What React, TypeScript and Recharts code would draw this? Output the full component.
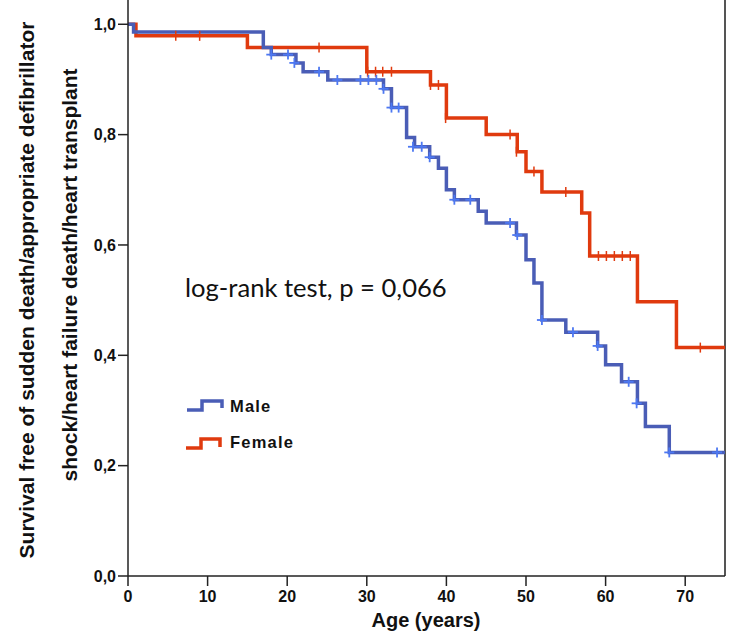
import React from 'react';
import {
  ComposedChart,
  Line,
  Scatter,
  XAxis,
  YAxis,
  ReferenceLine
} from 'recharts';

// Kaplan-Meier steps: [age, survival]
const maleSteps: [number, number][] = [
  [0, 1.0], [0.7, 0.986], [17.0, 0.958], [18.0, 0.945], [21.1, 0.93], [22.0, 0.914],
  [25.1, 0.899], [32.1, 0.883], [33.1, 0.849], [35.0, 0.795], [36.0, 0.778],
  [37.9, 0.759], [39.0, 0.739], [40.0, 0.7], [41.0, 0.682], [44.0, 0.661],
  [45.0, 0.64], [48.8, 0.618], [50.0, 0.573], [51.0, 0.531], [52.0, 0.464],
  [55.0, 0.442], [59.0, 0.417], [60.0, 0.383], [62.0, 0.352], [64.0, 0.313],
  [65.0, 0.271], [68.0, 0.224], [75, 0.224]
];

const maleCensored: [number, number][] = [
  [18.0, 0.945], [20.1, 0.945], [20.9, 0.93], [24.0, 0.914], [26.3, 0.899],
  [29.2, 0.899], [30.2, 0.899], [31.2, 0.899], [32.1, 0.883], [33.1, 0.849],
  [34.0, 0.849], [35.8, 0.778], [36.9, 0.778], [37.9, 0.759], [41.0, 0.682],
  [43.0, 0.682], [48.0, 0.64], [48.9, 0.618], [52.0, 0.464], [55.9, 0.442],
  [59.0, 0.417], [62.9, 0.352], [63.9, 0.313], [68.0, 0.224], [74.0, 0.224]
];

const femaleSteps: [number, number][] = [
  [0, 1.0], [1.0, 0.979], [15.0, 0.958], [30.0, 0.914], [38.0, 0.89], [40.0, 0.83],
  [45.0, 0.8], [48.9, 0.769], [50.0, 0.733], [52.0, 0.696], [57.0, 0.658],
  [58.0, 0.58], [64.0, 0.497], [68.9, 0.414], [75, 0.414]
];

const femaleCensored: [number, number][] = [
  [6.0, 0.979], [9.0, 0.979], [24.0, 0.958], [30.1, 0.914], [31.1, 0.914],
  [32.0, 0.914], [33.1, 0.914], [38.0, 0.89], [39.0, 0.89], [39.9, 0.83],
  [48.0, 0.8], [48.8, 0.769], [51.0, 0.733], [55.0, 0.696], [59.1, 0.58],
  [60.1, 0.58], [61.1, 0.58], [62.1, 0.58], [63.1, 0.58], [71.9, 0.414]
];

const xTicks = [0, 10, 20, 30, 40, 50, 60, 70];
const yTicks = [0, 0.2, 0.4, 0.6, 0.8, 1.0];

const toRows = (pts: [number, number][]) => pts.map(([t, s]) => ({ t, s }));

const MALE = '#4a5db6';
const MALE_MARK = '#4d78f2';
const FEMALE = '#e03a0e';
const AXIS = '#222';
const boldFont = "'Liberation Sans', Arial, sans-serif";

const MaleMark = (props: any) => {
  const { cx, cy } = props;
  return (
    <g>
      <line x1={cx} x2={cx} y1={cy - 5} y2={cy + 5} stroke={MALE_MARK} strokeWidth={1.8} />
      <line x1={cx - 5} x2={cx + 5} y1={cy} y2={cy} stroke={MALE_MARK} strokeWidth={1.8} />
    </g>
  );
};

const FemaleMark = (props: any) => {
  const { cx, cy } = props;
  return <line x1={cx} x2={cx} y1={cy - 5} y2={cy + 5} stroke={FEMALE} strokeWidth={1.5} />;
};

export default function App() {
  const tickStyle = { fontSize: 16, fontWeight: 700, fill: '#111', fontFamily: boldFont };
  return (
    <div style={{ position: 'absolute', left: 0, top: 0, width: 735, height: 634, background: '#fff' }}>
      <ComposedChart width={735} height={634} margin={{ top: 0, right: 10, bottom: 0, left: 0 }}>
        <XAxis
          dataKey="t"
          type="number"
          domain={[0, 75]}
          ticks={xTicks}
          allowDuplicatedCategory={false}
          height={58}
          tickSize={10}
          tickMargin={5}
          stroke={AXIS}
          strokeWidth={1.5}
          tick={tickStyle}
        />
        <YAxis
          type="number"
          domain={[0, 1.044]}
          ticks={yTicks}
          width={128}
          tickSize={10}
          tickMargin={2}
          stroke={AXIS}
          strokeWidth={1.5}
          tick={tickStyle}
          tickFormatter={(v: number) => v.toFixed(1).replace('.', ',')}
        />
        <ReferenceLine x={75} stroke="#555" strokeWidth={2} ifOverflow="visible" />
        <Line
          data={toRows(femaleSteps)}
          dataKey="s"
          type="stepAfter"
          stroke={FEMALE}
          strokeWidth={3.5}
          dot={false}
          activeDot={false}
          isAnimationActive={false}
        />
        <Line
          data={toRows(maleSteps)}
          dataKey="s"
          type="stepAfter"
          stroke={MALE}
          strokeWidth={3.5}
          dot={false}
          activeDot={false}
          isAnimationActive={false}
        />
        <Scatter data={toRows(femaleCensored)} dataKey="s" shape={FemaleMark} isAnimationActive={false} />
        <Scatter data={toRows(maleCensored)} dataKey="s" shape={MaleMark} isAnimationActive={false} />
      </ComposedChart>
      <svg
        width={735}
        height={634}
        style={{ position: 'absolute', left: 0, top: 0, pointerEvents: 'none' }}
      >
        <g fontFamily={boldFont} fontWeight={700} fontSize={21} fill="#111">
          <text x={34} y={290} textAnchor="middle" transform="rotate(-90, 34, 290)">
            Survival free of sudden death/appropriate defibrillator
          </text>
          <text x={77} y={275} textAnchor="middle" transform="rotate(-90, 77, 275)">
            shock/heart failure death/heart transplant
          </text>
        </g>
        <text x={426} y={627} textAnchor="middle" fontFamily={boldFont} fontWeight={700} fontSize={20} fill="#111">
          Age (years)
        </text>
        <text x={185} y={297} fontFamily="Lato, 'Open Sans', sans-serif" fontSize={25.6} fill="#111">
          log-rank test, p = 0,066
        </text>
        <polyline points="187,410 202,410 202,401 222,401 222,408" fill="none" stroke={MALE} strokeWidth={3.5} />
        <polyline points="186,448 201,448 201,439 220,439 220,447" fill="none" stroke={FEMALE} strokeWidth={3.5} />
        <g fontFamily={boldFont} fontWeight={700} fontSize={16.5} fill="#111" letterSpacing={1.2}>
          <text x={230} y={412}>Male</text>
          <text x={230} y={448}>Female</text>
        </g>
      </svg>
    </div>
  );
}
